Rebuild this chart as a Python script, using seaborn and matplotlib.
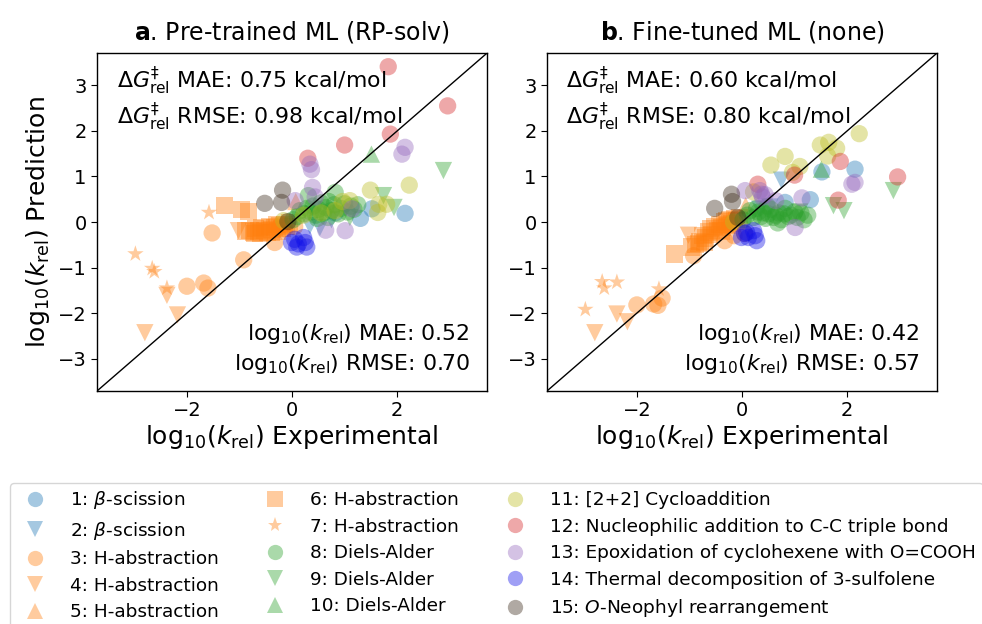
import matplotlib
matplotlib.use("Agg")
import matplotlib.pyplot as plt
import seaborn as sns
import pandas as pd
import numpy as np
from matplotlib.lines import Line2D

# ---------------- data ----------------
labels = [
    "1: $\\beta$-scission", "2: $\\beta$-scission", "3: H-abstraction", "4: H-abstraction",
    "5: H-abstraction", "6: H-abstraction", "7: H-abstraction", "8: Diels-Alder",
    "9: Diels-Alder", "10: Diels-Alder", "11: [2+2] Cycloaddition",
    "12: Nucleophilic addition to C-C triple bond",
    "13: Epoxidation of cyclohexene with O=COOH",
    "14: Thermal decomposition of 3-sulfolene",
    "15: $O$-Neophyl rearrangement",
]
markers = ["o", "v", "o", "v", "^", "s", "*", "o", "v", "^", "o", "o", "o", "o", "o"]
colors = ["tab:blue", "tab:blue", "tab:orange", "tab:orange", "tab:orange", "tab:orange",
          "tab:orange", "tab:green", "tab:green", "tab:green", "tab:olive", "tab:red",
          "tab:purple", "#1010e8", "#3b2a1a"]

x1 = [0.82, 1.30, 1.52, 2.15]
p1 = [0.20, 0.08, 0.29, 0.19]
f1 = [0.43, 0.49, 1.10, 1.16]

x2 = [0.34, 0.53, 0.75]
p2 = [-0.08, -0.12, 0.05]
f2 = [0.28, 0.33, 0.92]

x3 = [-2.00, -1.68, -1.60, -1.52, -0.92, -0.33, -0.15, 0.05]
p3 = [-1.41, -1.34, -1.45, -0.24, -0.83, -0.45, -0.15, -0.10]
f3 = [-1.82, -1.80, -1.83, -1.67, -0.74, -0.41, -0.30, -0.25]

x4 = [-2.80, -2.38, -2.18, -1.02]
p4 = [-2.43, -1.61, -2.04, -0.19]
f4 = [-2.43, -2.02, -2.19, -0.29]

x5 = [0.07, -0.30]
p5 = [0.45, -0.05]
f5 = [0.36, -0.05]

x6 = [-1.29, -0.96, -0.83, -0.88, -0.80, -0.74, -0.69, -0.63, -0.58, -0.52, -0.47, -0.43,
      -0.38, -0.33, -0.28, -0.24, -0.19, -0.14, -0.10, -0.05, -0.72, -0.60, -0.40, -0.30]
p6 = [0.36, 0.27, 0.23, -0.20, -0.18, -0.22, -0.15, -0.20, -0.12, -0.18, -0.22, -0.10,
      -0.16, -0.12, -0.20, -0.08, -0.14, -0.05, -0.10, -0.02, -0.25, -0.24, -0.23, -0.06]
f6 = [-0.70, -0.55, -0.47, -0.50, -0.42, -0.30, -0.35, -0.22, -0.28, -0.10, -0.18, -0.05,
      -0.12, 0.00, -0.08, 0.05, -0.03, 0.08, 0.02, 0.10, -0.45, -0.15, -0.20, 0.02]

x7 = [-2.98, -2.66, -2.62, -2.38, -1.58]
p7 = [-0.70, -1.02, -1.09, -1.45, 0.21]
f7 = [-1.92, -1.31, -1.45, -1.32, -1.47]

x8 = [0.02, 0.10, 0.15, 0.22, 0.28, 0.31, 0.36, 0.40, 0.45, 0.50, 0.55, 0.60, 0.64,
      0.70, 0.75, 0.80, 0.82, 0.88, 0.93, 1.00, 1.05, 1.12, 1.18, 1.25, 0.48, 0.68]
p8 = [0.05, 0.12, 0.25, 0.18, 0.30, 0.58, 0.22, 0.35, 0.15, 0.28, 0.42, 0.20, 0.32,
      0.45, 0.25, 0.38, 0.65, 0.18, 0.30, 0.40, 0.22, 0.35, 0.28, 0.38, 0.08, 0.10]
f8 = [0.05, 0.15, 0.25, 0.10, 0.30, 0.22, 0.12, 0.20, 0.08, 0.18, 0.28, 0.10, 0.15,
      0.20, 0.05, 0.18, 0.30, 0.12, 0.15, 0.22, 0.10, 0.20, 0.05, 0.15, 0.35, -0.02]

x9 = [1.10, 1.74, 1.94, 2.88]
p9 = [0.10, 0.58, 0.32, 1.13]
f9 = [0.22, 0.36, 0.25, 0.69]

x10 = [1.51]
p10 = [1.49]
f10 = [1.16]

x11 = [-0.16, 0.22, 0.55, 0.82, 0.96, 1.10, 1.49, 1.63, 1.65, 1.80, 2.23]
p11 = [0.03, 0.15, 0.20, 0.25, 0.45, 0.47, 0.70, 0.21, 0.39, 0.39, 0.81]
f11 = [0.00, 0.66, 1.25, 1.44, 1.09, 1.22, 1.69, 1.45, 1.75, 1.62, 1.94]

x12 = [0.30, 1.00, 1.83, 1.87, 2.96]
p12 = [1.40, 1.69, 3.41, 1.93, 2.55]
f12 = [0.83, 1.03, 0.48, 1.33, 0.99]

x13 = [0.06, 0.34, 0.37, 0.39, 0.44, 0.64, 1.01, 1.14, 2.09, 2.15]
p13 = [0.47, 1.27, 1.15, 0.76, 0.55, -0.18, -0.19, 0.29, 1.49, 1.64]
f13 = [0.69, 0.69, 0.61, 0.55, 0.60, 0.47, -0.12, 0.53, 0.83, 0.87]

x14 = [-0.01, 0.09, 0.12, 0.22, 0.25, 0.28, 0.05]
p14 = [-0.45, -0.55, -0.48, -0.34, -0.45, -0.55, -0.38]
f14 = [-0.34, -0.23, -0.34, -0.19, -0.30, -0.41, -0.25]

x15 = [-0.52, -0.20, -0.18, -0.08]
p15 = [0.41, 0.43, 0.70, 0.01]
f15 = [0.30, 0.61, 0.45, 0.10]

xs = [x1, x2, x3, x4, x5, x6, x7, x8, x9, x10, x11, x12, x13, x14, x15]
ps = [p1, p2, p3, p4, p5, p6, p7, p8, p9, p10, p11, p12, p13, p14, p15]
fs = [f1, f2, f3, f4, f5, f6, f7, f8, f9, f10, f11, f12, f13, f14, f15]

titles = ["Pre-trained ML (RP-solv)", "Fine-tuned ML (none)"]
letters = ["a", "b"]
g_mae = ["0.75", "0.60"]
g_rmse = ["0.98", "0.80"]
k_mae = ["0.52", "0.42"]
k_rmse = ["0.70", "0.57"]

# ---------------- build frame ----------------
rows = []
for lab, xx, pp, ff in zip(labels, xs, ps, fs):
    for a, b, c in zip(xx, pp, ff):
        rows.append((lab, a, b, c))
df = pd.DataFrame(rows, columns=["label", "exp", "pre", "ft"])

palette = dict(zip(labels, colors))
mk = dict(zip(labels, markers))

sns.set_style("ticks")
plt.rcParams["font.family"] = ["DejaVu Sans"]
plt.rcParams["mathtext.fontset"] = "dejavusans"
for key in ["text.color", "axes.labelcolor", "xtick.color", "ytick.color", "axes.edgecolor"]:
    plt.rcParams[key] = "black"

fig = plt.figure(figsize=(9.82, 6.24), dpi=100)
ax1 = fig.add_axes([0.0988, 0.3734, 0.3972, 0.5416])
ax2 = fig.add_axes([0.5570, 0.3734, 0.3972, 0.5416])

lim = (-3.71, 3.71)
for i, (ax, col) in enumerate(zip([ax1, ax2], ["pre", "ft"])):
    sns.scatterplot(data=df, x="exp", y=col, hue="label", style="label",
                    palette=palette, markers=mk, hue_order=labels, style_order=labels,
                    s=155, alpha=0.4, linewidth=0, legend=False, ax=ax)
    ax.axline((0, 0), slope=1, color="black", lw=1)
    ax.set_xlim(lim)
    ax.set_ylim(lim)
    ax.set_xticks([-2, 0, 2])
    ax.set_yticks([-3, -2, -1, 0, 1, 2, 3])
    ax.tick_params(labelsize=14, length=4, colors="black")
    for sp in ax.spines.values():
        sp.set_visible(True)
        sp.set_color("black")
        sp.set_linewidth(1.0)
    ax.set_xlabel("log$_{10}$($k_{\\rm rel}$) Experimental", fontsize=18, labelpad=2)
    if i == 0:
        ax.set_ylabel("log$_{10}$($k_{\\rm rel}$) Prediction", fontsize=18, labelpad=4)
    else:
        ax.set_ylabel("")
    ax.set_title("$\\bf{" + letters[i] + "}$. " + titles[i], fontsize=17, pad=10)
    ax.text(0.05, 0.965,
            "$\\Delta G^{\\ddagger}_{\\rm rel}$ MAE: " + g_mae[i] + " kcal/mol\n"
            "$\\Delta G^{\\ddagger}_{\\rm rel}$ RMSE: " + g_rmse[i] + " kcal/mol",
            transform=ax.transAxes, ha="left", va="top", fontsize=15.8, linespacing=1.15)
    ax.text(0.955, 0.045,
            "log$_{10}$($k_{\\rm rel}$) MAE: " + k_mae[i] + "\n"
            "log$_{10}$($k_{\\rm rel}$) RMSE: " + k_rmse[i],
            transform=ax.transAxes, ha="right", va="bottom", fontsize=15.8, linespacing=1.3,
            multialignment="right")

handles = [Line2D([], [], linestyle="", marker=m, color=c, alpha=0.4, markersize=11,
                  markeredgewidth=0) for m, c in zip(markers, colors)]
fig.legend(handles, labels, loc="upper left", bbox_to_anchor=(0.01, 0.226), ncol=3,
           fontsize=13.3, frameon=True, labelspacing=0.46, columnspacing=2.05,
           handletextpad=0.9, borderaxespad=0.0, borderpad=0.35)

fig.savefig("out.png", dpi=100)
